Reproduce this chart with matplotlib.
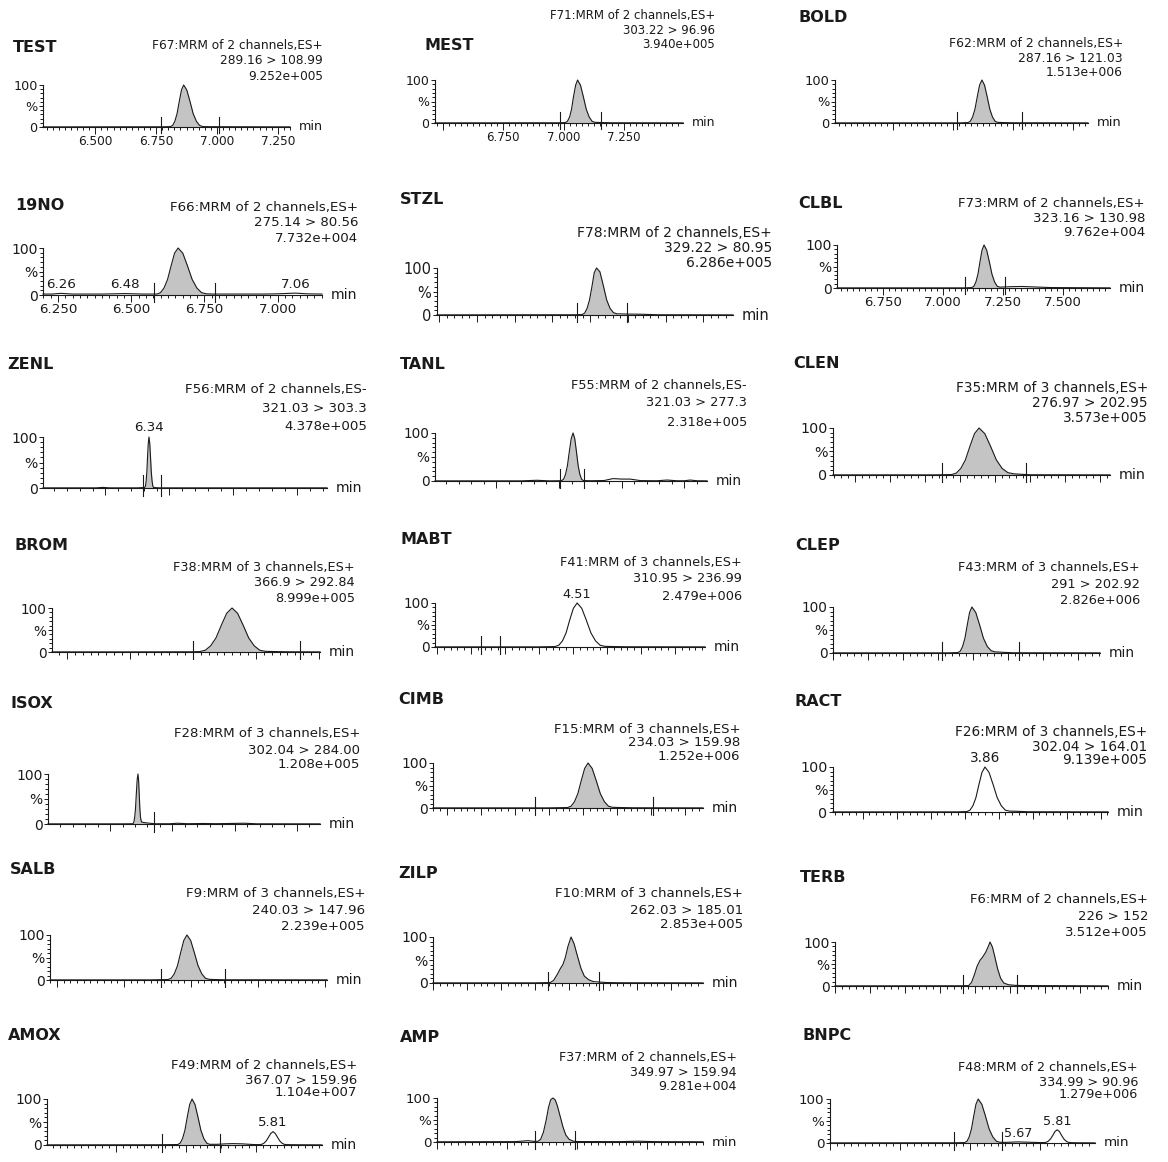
import matplotlib
matplotlib.use('Agg')
import matplotlib.pyplot as plt
from matplotlib.ticker import MultipleLocator, FuncFormatter
import numpy as np

plt.rcParams['font.family'] = ['DejaVu Sans']

W, H = 1168, 1162

# --- chromatogram data (retention time in min, relative intensity in %) ---
names = ['TEST', '19NO', 'ZENL', 'BROM', 'ISOX', 'SALB', 'AMOX',
         'MEST', 'STZL', 'TANL', 'MABT', 'CIMB', 'ZILP', 'AMP',
         'BOLD', 'CLBL', 'CLEN', 'CLEP', 'RACT', 'TERB', 'BNPC']
functions = ['F67:MRM of 2 channels,ES+', 'F66:MRM of 2 channels,ES+', 'F56:MRM of 2 channels,ES-',
             'F38:MRM of 3 channels,ES+', 'F28:MRM of 3 channels,ES+', 'F9:MRM of 3 channels,ES+',
             'F49:MRM of 2 channels,ES+',
             'F71:MRM of 2 channels,ES+', 'F78:MRM of 2 channels,ES+', 'F55:MRM of 2 channels,ES-',
             'F41:MRM of 3 channels,ES+', 'F15:MRM of 3 channels,ES+', 'F10:MRM of 3 channels,ES+',
             'F37:MRM of 2 channels,ES+',
             'F62:MRM of 2 channels,ES+', 'F73:MRM of 2 channels,ES+', 'F35:MRM of 3 channels,ES+',
             'F43:MRM of 3 channels,ES+', 'F26:MRM of 3 channels,ES+', 'F6:MRM of 2 channels,ES+',
             'F48:MRM of 2 channels,ES+']
transitions = ['289.16 > 108.99', '275.14 > 80.56', '321.03 > 303.3', '366.9 > 292.84',
               '302.04 > 284.00', '240.03 > 147.96', '367.07 > 159.96',
               '303.22 > 96.96', '329.22 > 80.95', '321.03 > 277.3', '310.95 > 236.99',
               '234.03 > 159.98', '262.03 > 185.01', '349.97 > 159.94',
               '287.16 > 121.03', '323.16 > 130.98', '276.97 > 202.95', '291 > 202.92',
               '302.04 > 164.01', '226 > 152', '334.99 > 90.96']
intensities = ['9.252e+005', '7.732e+004', '4.378e+005', '8.999e+005', '1.208e+005', '2.239e+005', '1.104e+007',
               '3.940e+005', '6.286e+005', '2.318e+005', '2.479e+006', '1.252e+006', '2.853e+005', '9.281e+004',
               '1.513e+006', '9.762e+004', '3.573e+005', '2.826e+006', '9.139e+005', '3.512e+005', '1.279e+006']

TEST_t = [6.285, 6.78, 6.809, 6.818, 6.827, 6.836, 6.845, 6.854, 6.863, 6.876, 6.889, 6.902, 6.915, 6.928, 6.941, 6.97, 7.30]
TEST_y = [0.3, 0.5, 1, 4, 14, 32, 61, 88, 100, 88, 61, 32, 14, 4, 1, 0.7, 0.3]
NO19_t = [6.199, 6.23, 6.26, 6.30, 6.40, 6.48, 6.54, 6.588, 6.60, 6.612, 6.624, 6.636, 6.648, 6.66, 6.676, 6.692,
          6.708, 6.724, 6.74, 6.756, 6.78, 6.85, 6.95, 7.00, 7.06, 7.10, 7.151]
NO19_y = [2, 2, 3.5, 2, 2, 3, 2, 2, 5, 15, 33, 62, 89, 100, 89, 62, 33, 15, 5, 2.5, 2, 2, 2, 2.5, 4, 2.5, 2]
ZENL_t = [5.512, 5.93, 5.98, 6.03, 6.25, 6.307, 6.3125, 6.318, 6.3235, 6.329, 6.3345, 6.34, 6.346, 6.352, 6.358,
          6.364, 6.37, 6.376, 6.42, 7.731]
ZENL_y = [0.3, 0.3, 1.2, 0.3, 0.3, 1, 4, 14, 32, 61, 88, 100, 88, 61, 32, 14, 4, 1, 0.3, 0.3]
BROM_t = [3.881, 4.5, 5.0, 5.055, 5.0975, 5.14, 5.1825, 5.225, 5.2675, 5.31, 5.354, 5.398, 5.442, 5.486, 5.53,
          5.574, 5.65, 5.75, 6.008]
BROM_y = [0.3, 0.3, 0.5, 1, 4, 14, 32, 61, 88, 100, 88, 61, 32, 14, 4, 1.5, 1, 0.5, 0.3]
ISOX_t = [3.502, 4.10, 4.178, 4.185, 4.1915, 4.198, 4.2045, 4.211, 4.2175, 4.224, 4.229, 4.234, 4.239, 4.244,
          4.249, 4.254, 4.27, 4.30, 4.36, 4.48, 4.54, 4.62, 4.75, 4.85, 4.95, 5.08, 5.18, 5.685]
ISOX_y = [0.3, 0.3, 0.5, 1, 4, 14, 32, 61, 88, 100, 88, 61, 32, 14, 7, 4, 3, 2, 0.5, 0.5, 1.5, 0.6, 1, 0.6, 1,
          1.5, 0.4, 0.3]
SALB_t = [2.948, 3.7, 3.829, 3.8525, 3.876, 3.8995, 3.923, 3.9465, 3.97, 3.9975, 4.025, 4.0525, 4.08, 4.1075,
          4.135, 4.18, 4.25, 5.015]
SALB_y = [0.3, 0.3, 1, 4, 14, 32, 61, 88, 100, 88, 61, 32, 14, 4, 1.5, 1, 0.5, 0.3]
AMOX_t = [5.003, 5.40, 5.47, 5.4785, 5.487, 5.4955, 5.504, 5.5125, 5.521, 5.5315, 5.542, 5.5525, 5.563, 5.5735,
          5.584, 5.61, 5.64, 5.667, 5.70, 5.74, 5.762, 5.77, 5.778, 5.786, 5.794, 5.802, 5.81, 5.818, 5.826,
          5.834, 5.842, 5.85, 5.858, 5.90, 5.985]
AMOX_y = [0.3, 0.5, 1, 4, 14, 32, 61, 88, 100, 88, 61, 32, 14, 4, 1.5, 1.5, 2.5, 3, 2.5, 1, 0.8, 1.5, 4, 9, 17,
          25, 29, 25, 17, 9, 4, 1.5, 0.8, 0.5, 0.3]
MEST_t = [6.467, 6.98, 7.008, 7.016, 7.025, 7.033, 7.041, 7.05, 7.058, 7.07, 7.082, 7.094, 7.106, 7.118, 7.13,
          7.16, 7.20, 7.495]
MEST_y = [0.3, 0.5, 1, 4, 14, 32, 61, 88, 100, 88, 61, 32, 14, 4, 1.5, 1, 0.5, 0.3]
STZL_t = [6.694, 7.06, 7.079, 7.0855, 7.092, 7.0985, 7.105, 7.111, 7.117, 7.126, 7.135, 7.144, 7.153, 7.162,
          7.171, 7.20, 7.24, 7.28, 7.479]
STZL_y = [0.3, 0.5, 1, 4, 14, 32, 61, 90, 100, 92, 63, 32, 14, 5, 2.5, 2, 1.5, 0.5, 0.3]
TANL_t = [5.511, 6.20, 6.324, 6.42, 6.50, 6.522, 6.537, 6.552, 6.567, 6.582, 6.597, 6.612, 6.6255, 6.639,
          6.6525, 6.666, 6.6795, 6.693, 6.75, 6.86, 6.93, 7.0, 7.066, 7.15, 7.28, 7.361, 7.44, 7.50, 7.545,
          7.60, 7.68]
TANL_y = [0.3, 0.3, 1.5, 0.3, 0.5, 1, 4, 14, 32, 61, 88, 100, 88, 61, 32, 14, 4, 1, 0.5, 1, 5, 4, 4, 0.8, 0.5,
          2, 0.5, 0.5, 2, 0.5, 0.3]
MABT_t = [4.094, 4.40, 4.447, 4.458, 4.469, 4.4795, 4.49, 4.501, 4.512, 4.5255, 4.539, 4.5525, 4.566, 4.5795,
          4.593, 4.62, 4.66, 4.888]
MABT_y = [0.3, 0.3, 1, 4, 14, 32, 61, 88, 100, 88, 61, 32, 14, 4, 1.5, 1, 0.5, 0.3]
CIMB_t = [2.459, 2.80, 2.855, 2.865, 2.875, 2.885, 2.895, 2.905, 2.915, 2.927, 2.939, 2.951, 2.963, 2.975,
          2.987, 3.01, 3.05, 3.253]
CIMB_y = [0.3, 0.3, 1, 4, 14, 32, 61, 88, 100, 88, 61, 32, 14, 4, 1.5, 1, 0.5, 0.3]
ZILP_t = [3.5, 3.80, 3.845, 3.855, 3.865, 3.875, 3.882, 3.889, 3.897, 3.906, 3.915, 3.925, 3.935, 3.945,
          3.958, 3.972, 3.99, 4.01, 4.05, 4.294]
ZILP_y = [0.3, 0.3, 1, 6, 18, 32, 40, 55, 80, 100, 85, 58, 32, 15, 7, 3, 2, 1, 0.5, 0.3]
AMP_t = [4.5, 4.78, 4.825, 4.845, 4.86, 4.87, 4.88, 4.89, 4.898, 4.906, 4.914, 4.922, 4.93, 4.94, 4.95, 4.96,
         4.972, 4.986, 5.0, 5.15, 5.218, 5.28, 5.45]
AMP_y = [0.5, 0.8, 3, 1.5, 1.5, 6, 22, 50, 78, 96, 100, 96, 82, 58, 34, 16, 6, 2, 1, 0.8, 1.8, 0.8, 0.5]
BOLD_t = [6.508, 7.03, 7.062, 7.0717, 7.0813, 7.091, 7.1007, 7.1103, 7.12, 7.131, 7.142, 7.153, 7.164, 7.175,
          7.186, 7.21, 7.25, 7.562]
BOLD_y = [0.3, 0.3, 1, 4, 14, 32, 61, 88, 100, 88, 61, 32, 14, 4, 1.5, 1, 0.5, 0.3]
CLBL_t = [6.558, 7.09, 7.12, 7.1285, 7.137, 7.1455, 7.154, 7.1625, 7.171, 7.182, 7.193, 7.204, 7.215, 7.226,
          7.237, 7.28, 7.33, 7.40, 7.45, 7.696]
CLBL_y = [0.3, 0.3, 1, 4, 14, 32, 61, 88, 100, 88, 61, 32, 14, 4, 2, 3, 3.5, 2, 1, 0.3]
CLEN_t = [3.737, 4.03, 4.076, 4.089, 4.102, 4.115, 4.128, 4.141, 4.154, 4.1705, 4.187, 4.2035, 4.22, 4.2365,
          4.253, 4.275, 4.30, 4.528]
CLEN_y = [0.3, 0.3, 1, 4, 14, 32, 61, 88, 100, 88, 61, 32, 14, 5, 2.5, 1.5, 0.5, 0.3]
CLEP_t = [3.7, 4.03, 4.057, 4.0637, 4.0703, 4.077, 4.0837, 4.0903, 4.097, 4.108, 4.119, 4.13, 4.141, 4.152,
          4.163, 4.185, 4.215, 4.463]
CLEP_y = [0.3, 0.3, 1, 4, 14, 32, 61, 88, 100, 88, 61, 32, 14, 5, 2.5, 1.5, 0.5, 0.3]
RACT_t = [3.413, 3.78, 3.807, 3.8158, 3.8247, 3.8335, 3.8423, 3.8512, 3.86, 3.872, 3.884, 3.896, 3.908, 3.92,
          3.932, 3.955, 3.99, 4.222]
RACT_y = [0.3, 0.3, 1, 4, 14, 32, 61, 88, 100, 88, 61, 32, 14, 4, 2, 1.5, 0.5, 0.3]
TERB_t = [2.5, 2.86, 2.882, 2.89, 2.898, 2.906, 2.914, 2.922, 2.93, 2.937, 2.943, 2.95, 2.957, 2.965, 2.973,
          2.982, 2.995, 3.014, 3.04, 3.28]
TERB_y = [0.3, 0.5, 1, 8, 25, 45, 58, 66, 76, 88, 100, 88, 65, 38, 18, 7, 3, 1.5, 1, 0.3]
BNPC_t = [4.999, 5.45, 5.48, 5.488, 5.496, 5.504, 5.512, 5.52, 5.528, 5.541, 5.554, 5.567, 5.58, 5.593, 5.606,
          5.63, 5.67, 5.72, 5.75, 5.762, 5.77, 5.778, 5.786, 5.794, 5.802, 5.81, 5.818, 5.826, 5.834, 5.842,
          5.85, 5.858, 5.88, 5.945]
BNPC_y = [0.3, 0.5, 1, 4, 14, 32, 61, 88, 100, 88, 61, 32, 14, 4, 1.5, 1.5, 2.5, 1.5, 1, 1, 1.5, 4, 9, 17, 26,
          30, 26, 17, 9, 4, 1.5, 0.8, 0.5, 0.3]

traces = [(TEST_t, TEST_y), (NO19_t, NO19_y), (ZENL_t, ZENL_y), (BROM_t, BROM_y), (ISOX_t, ISOX_y),
          (SALB_t, SALB_y), (AMOX_t, AMOX_y), (MEST_t, MEST_y), (STZL_t, STZL_y), (TANL_t, TANL_y),
          (MABT_t, MABT_y), (CIMB_t, CIMB_y), (ZILP_t, ZILP_y), (AMP_t, AMP_y), (BOLD_t, BOLD_y),
          (CLBL_t, CLBL_y), (CLEN_t, CLEN_y), (CLEP_t, CLEP_y), (RACT_t, RACT_y), (TERB_t, TERB_y),
          (BNPC_t, BNPC_y)]

# integration marks and integrated (shaded) ranges
marks = [[6.768, 7.007], [6.578, 6.786], [6.293, 6.434], [5.0, 5.849], [4.353], [3.776, 4.254], [5.414, 5.621],
         [6.984, 7.154], [7.065, 7.197], [6.507, 6.699], [4.229, 4.285], [2.759, 3.106], [3.838, 3.988],
         [4.85, 4.993],
         [7.016, 7.287], [7.092, 7.258], [4.049, 4.289], [4.011, 4.231], [], [2.866, 3.02], [5.442, 5.613]]
shaded = [(6.768, 7.007), (6.578, 6.786), (6.293, 6.434), (5.0, 5.849), (4.178, 4.353), (3.776, 4.254),
          (5.414, 5.621), (6.984, 7.154), (7.065, 7.197), (6.507, 6.699), None, (2.759, 3.106),
          (3.838, 3.988), (4.85, 4.993), (7.016, 7.287), (7.092, 7.258), (4.049, 4.289), (4.011, 4.231),
          None, (2.866, 3.02), (5.442, 5.613)]
peak_labels = [[], [(6.26, 3.5, '6.26'), (6.48, 3, '6.48'), (7.06, 4, '7.06')], [(6.34, 100, '6.34')], [], [], [],
               [(5.81, 29, '5.81')], [], [], [], [(4.51, 100, '4.51')], [], [], [],
               [], [], [], [], [(3.86, 100, '3.86')], [], [(5.67, 2.5, '5.67'), (5.81, 30, '5.81')]]

xlims = [(6.285, 7.30), (6.199, 7.151), (5.512, 7.731), (3.881, 6.008), (3.502, 5.685), (2.948, 5.015),
         (5.003, 5.985), (6.467, 7.495), (6.694, 7.479), (5.511, 7.68), (4.094, 4.888), (2.459, 3.253),
         (3.5, 4.294), (4.5, 5.45), (6.508, 7.562), (6.558, 7.696), (3.737, 4.528), (3.7, 4.463),
         (3.413, 4.222), (2.5, 3.28), (4.999, 5.945)]
# (major, minor, labelled)
xticks = [(0.25, 0.025, True), (0.25, 0.025, True), (0.5, 0.1, False), (0.5, 0.0625, False),
          (0.5, 0.1, False), (0.5, 0.05, False), (0.25, 0.025, False),
          (0.25, 0.025, True), (0.1, 0.02, False), (0.5, 0.1, False), (0.1, 0.02, False),
          (0.1, 0.02, False), (0.1, 0.02, False), (0.25, 0.025, False),
          (0.25, 0.025, False), (0.25, 0.025, True), (0.1, 0.02, False), (0.1, 0.02, False),
          (0.1, 0.02, False), (0.1, 0.02, False), (0.25, 0.025, False)]
# first labelled time on the axis (MEST starts its labels at 6.750)
first_label = [0, 0, 0, 0, 0, 0, 0, 6.7, 0, 0, 0, 0, 0, 0, 0, 0, 0, 0, 0, 0, 0]

# --- layout, pixels: (left, right, baseline, 100 % line) ---
boxes = [(43, 290, 127, 85), (43, 322, 295, 248), (43, 327, 488, 437), (52, 320, 652, 608),
         (48, 320, 824, 774), (50, 327, 980, 935), (47, 322, 1145, 1099),
         (435, 683, 123, 80), (437, 733, 315, 268), (435, 707, 481, 433), (435, 705, 647, 603),
         (433, 703, 808, 763), (433, 703, 983, 937), (437, 703, 1142, 1098),
         (835, 1088, 123, 80), (837, 1110, 288, 245), (833, 1110, 475, 428), (833, 1100, 653, 607),
         (833, 1108, 812, 767), (835, 1108, 986, 942), (830, 1095, 1143, 1099)]
name_pos = [(13, 48), (15, 205), (7, 365), (15, 545), (10, 703), (10, 870), (8, 1035),
            (425, 45), (400, 200), (400, 365), (400, 540), (398, 700), (398, 873), (400, 1037),
            (798, 17), (798, 203), (793, 363), (795, 545), (795, 702), (800, 878), (802, 1035)]
head_right = [323, 358, 367, 355, 360, 365, 357, 715, 772, 747, 742, 740, 743, 737,
              1123, 1145, 1148, 1140, 1147, 1148, 1138]
head_y = [(45, 60, 77), (207, 222, 238), (390, 408, 427), (567, 583, 599), (733, 750, 765), (893, 910, 927),
          (1065, 1080, 1093), (15, 30, 45), (233, 248, 263), (385, 403, 422), (562, 578, 596), (730, 743, 756),
          (893, 910, 924), (1057, 1073, 1087), (43, 58, 72), (203, 218, 233), (388, 403, 418), (568, 585, 600),
          (732, 747, 760), (900, 917, 932), (1068, 1082, 1094)]
fsz = [8.7, 9.6, 9.6, 9.3, 9.5, 9.6, 9.5, 8.5, 10.0, 9.3, 9.3, 9.5, 9.6, 9.1,
       8.9, 9.5, 9.8, 9.3, 9.8, 9.5, 9.2]

ink = '#1a1a1a'
fig = plt.figure(figsize=(W / 100, H / 100), dpi=100)
fig.patch.set_facecolor('white')


def time_fmt(lo):
    return FuncFormatter(lambda v, p: '%.3f' % v if v >= lo else '')


for i, name in enumerate(names):
    L, R, y0, y100 = boxes[i]
    fs = fsz[i]
    ax = fig.add_axes([L / W, 1 - y0 / H, (R - L) / W, (y0 - y100) / H])
    ax.patch.set_alpha(0)
    t = np.array(traces[i][0])
    y = np.array(traces[i][1])
    ax.set_xlim(*xlims[i])
    ax.set_ylim(0, 100)

    if shaded[i] is not None:
        lo, hi = shaded[i]
        sel = (t >= lo) & (t <= hi)
        ax.fill_between(t[sel], 0, y[sel], color='#c4c4c4', lw=0)
    ax.plot(t, y, color=ink, lw=0.8, clip_on=False)
    for mk in marks[i]:
        ax.plot([mk, mk], [-15, 25], color=ink, lw=0.8, clip_on=False)
    for pt, ph, txt in peak_labels[i]:
        ax.text(pt, ph + 5, txt, ha='center', va='bottom', fontsize=fs, color=ink, clip_on=False)

    for s in ['top', 'right']:
        ax.spines[s].set_visible(False)
    for s in ['left', 'bottom']:
        ax.spines[s].set_linewidth(0.8)
        ax.spines[s].set_color(ink)

    major, minor, labelled = xticks[i]
    ax.xaxis.set_major_locator(MultipleLocator(major))
    ax.xaxis.set_minor_locator(MultipleLocator(minor))
    ax.xaxis.set_major_formatter(time_fmt(first_label[i]))
    ax.tick_params(axis='x', which='major', direction='out', length=5, width=0.7, pad=1,
                   labelsize=fs, labelbottom=labelled, colors=ink)
    ax.tick_params(axis='x', which='minor', direction='out', length=2.5, width=0.7, colors=ink)
    ax.set_yticks([0, 50, 100])
    ax.set_yticklabels(['0', '%', '100'])
    ax.yaxis.set_minor_locator(MultipleLocator(10))
    ax.tick_params(axis='y', which='major', direction='out', length=3, width=0.7, pad=1,
                   labelsize=fs + 0.5, colors=ink)
    ax.tick_params(axis='y', which='minor', direction='out', length=2, width=0.7, colors=ink)

    fig.text((R + 9) / W, 1 - y0 / H, 'min', ha='left', va='center', fontsize=fs + 0.5, color=ink)
    nx, ny = name_pos[i]
    fig.text(nx / W, 1 - ny / H, name, ha='left', va='center', fontsize=11.5, fontweight='bold', color=ink)
    for line, ly in zip([functions[i], transitions[i], intensities[i]], head_y[i]):
        fig.text(head_right[i] / W, 1 - ly / H, line, ha='right', va='center', fontsize=fs, color=ink)

fig.savefig('out.png', dpi=100, facecolor='white')
